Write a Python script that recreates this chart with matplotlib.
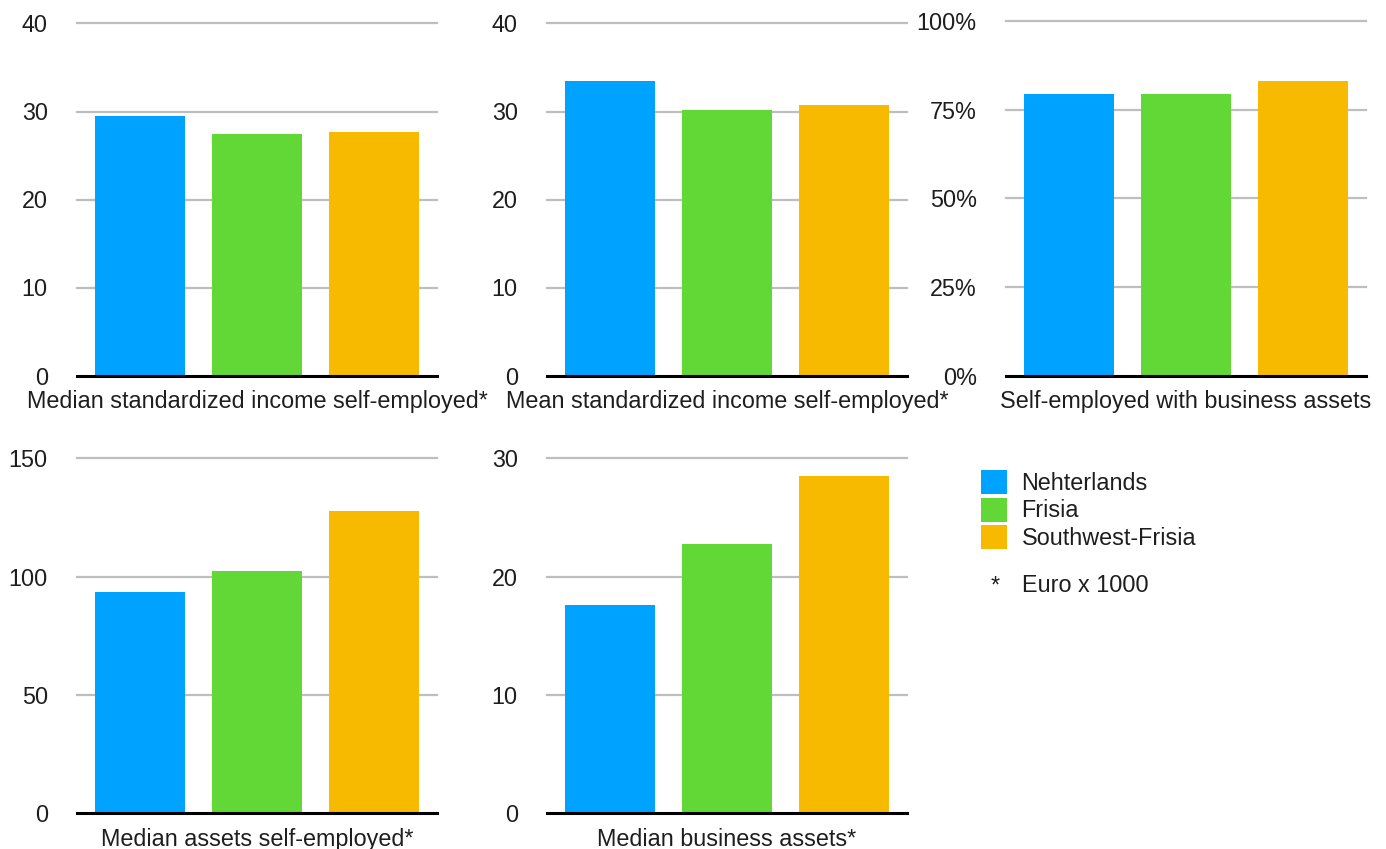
import matplotlib
matplotlib.use("Agg")
import matplotlib.pyplot as plt
from matplotlib.patches import Patch

plt.rcParams["font.family"] = ["Liberation Sans", "DejaVu Sans"]

regions = ["Nehterlands", "Frisia", "Southwest-Frisia"]
colors = ["#00A2FF", "#61D836", "#F8BA00"]

# values per panel, one per region (euro x 1000, or percent)
median_income = [29.5, 27.4, 27.7]
mean_income = [33.5, 30.2, 30.7]
share_business_assets = [79.5, 79.5, 83.2]
median_assets = [93.6, 102.5, 127.6]
median_business_assets = [17.6, 22.8, 28.5]

titles = ["Median standardized income self-employed*",
          "Mean standardized income self-employed*",
          "Self-employed with business assets",
          "Median assets self-employed*",
          "Median business assets*"]
yticks = [[0, 10, 20, 30, 40],
          [0, 10, 20, 30, 40],
          [0, 25, 50, 75, 100],
          [0, 50, 100, 150],
          [0, 10, 20, 30]]
ytick_labels = [[str(t) for t in yticks[0]],
                [str(t) for t in yticks[1]],
                ["{}%".format(t) for t in yticks[2]],
                [str(t) for t in yticks[3]],
                [str(t) for t in yticks[4]]]
values = [median_income, mean_income, share_business_assets,
          median_assets, median_business_assets]

W, H = 1386, 849
# axes boxes in pixels: left, right, y of zero line, y of top tick
boxes = [(77, 437, 375.5, 23.5),
         (547, 907, 375.5, 23.5),
         (1006, 1366, 375.5, 21.0),
         (77, 437, 813.3, 458.3),
         (547, 907, 813.3, 458.3)]

fig = plt.figure(figsize=(W / 100, H / 100), dpi=100)
text_color = "#1e1e1e"
fs = 16.8

for i in range(5):
    x0, x1, y0, y1 = boxes[i]
    ax = fig.add_axes([x0 / W, 1 - y0 / H, (x1 - x0) / W, (y0 - y1) / H])
    ticks = yticks[i]
    for t in ticks[1:]:
        ax.axhline(t, color="#bebebe", lw=1.6, zorder=1, clip_on=False)
    ax.bar(range(3), values[i], width=0.77, color=colors, zorder=2)
    ax.axhline(0, color="black", lw=2.2, zorder=3, clip_on=False)
    ax.set_xlim(-0.543, 2.543)
    ax.set_ylim(ticks[0], ticks[-1])
    ax.set_yticks(ticks)
    ax.set_yticklabels(ytick_labels[i], fontsize=fs, color=text_color)
    ax.tick_params(axis="y", length=0, pad=21)
    ax.set_xticks([])
    for spine in ax.spines.values():
        spine.set_visible(False)
    ax.annotate(titles[i], xy=(0.5, 0), xycoords="axes fraction",
                xytext=(0, -19), textcoords="offset points",
                ha="center", va="center", fontsize=fs, color=text_color)

handles = [Patch(facecolor=c, edgecolor="none") for c in colors]
fig.legend(handles, regions, loc="upper left",
           bbox_to_anchor=(981 / W, 1 - 470 / H),
           frameon=False, fontsize=fs, borderpad=0, borderaxespad=0,
           handlelength=1.1, handleheight=1.2, labelspacing=0.12,
           handletextpad=0.64, labelcolor=text_color)
fig.text(995 / W, 1 - 586 / H, "*", ha="center", va="center",
         fontsize=fs, color=text_color)
fig.text(1022 / W, 1 - 586 / H, "Euro x 1000", ha="left", va="center",
         fontsize=fs, color=text_color)

fig.savefig("out.png", dpi=100)
